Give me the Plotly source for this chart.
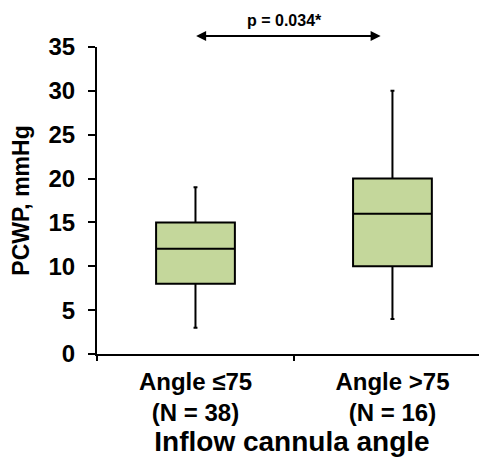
import plotly.graph_objects as go

categories = ["Angle ≤75<br>(N = 38)", "Angle >75<br>(N = 16)"]
q1 = [8, 10]
median = [12, 16]
q3 = [15, 20]
lower = [3, 4]
upper = [19, 30]
y_ticks = [0, 5, 10, 15, 20, 25, 30, 35]
p_label = "p = 0.034*"

FONT = "Liberation Sans, Arial, sans-serif"

fig = go.Figure()
fig.add_trace(go.Box(
    x=categories, q1=q1, median=median, q3=q3,
    lowerfence=lower, upperfence=upper,
    boxpoints=False, width=0.4, whiskerwidth=0.05,
    fillcolor="#C4D79B", line=dict(color="black", width=2),
    hoverinfo="skip", showlegend=False,
))

# double-headed arrow above the plot
fig.add_annotation(
    x=0.94, y=1.036, xref="x", yref="paper",
    ax=-186, ay=0, axref="pixel", ayref="pixel",
    showarrow=True, arrowhead=2, startarrowhead=2, arrowside="end+start",
    arrowsize=1, startarrowsize=1, arrowwidth=2, arrowcolor="black", text="",
)
fig.add_annotation(
    x=0.45, y=1.085, xref="x", yref="paper", xanchor="center", yanchor="middle",
    text="<b>" + p_label + "</b>",
    showarrow=False, font=dict(family=FONT, size=16, color="black"),
)

fig.update_layout(
    width=487, height=457,
    margin=dict(l=89, r=8, t=39, b=111),
    paper_bgcolor="white", plot_bgcolor="white",
    font=dict(family=FONT, color="black"),
    xaxis=dict(
        type="category", range=[-0.5, 1.48],
        showline=True, linecolor="black", linewidth=2,
        ticks="outside", tickson="boundaries", ticklen=5, tickwidth=2, tickcolor="black",
        tickfont=dict(family=FONT, size=24, color="black"),
        ticklabelstandoff=5,
        title=dict(text="<b>Inflow cannula angle</b>", font=dict(family=FONT, size=28, color="black"), standoff=4),
        showgrid=False, zeroline=False,
    ),
    yaxis=dict(
        range=[0, 35], tickvals=y_ticks, ticktext=["<b>%d</b>" % v for v in y_ticks],
        showline=True, linecolor="black", linewidth=2,
        ticks="outside", ticklen=7, tickwidth=2, tickcolor="black",
        tickfont=dict(family=FONT, size=24, color="black"),
        ticklabelstandoff=8,
        title=dict(text="<b>PCWP, mmHg</b>", font=dict(family=FONT, size=23, color="black"), standoff=12),
        showgrid=False, zeroline=False,
    ),
)
fig.update_xaxes(ticktext=["<b>" + c + "</b>" for c in categories], tickvals=categories)

fig.write_html("out.html")
